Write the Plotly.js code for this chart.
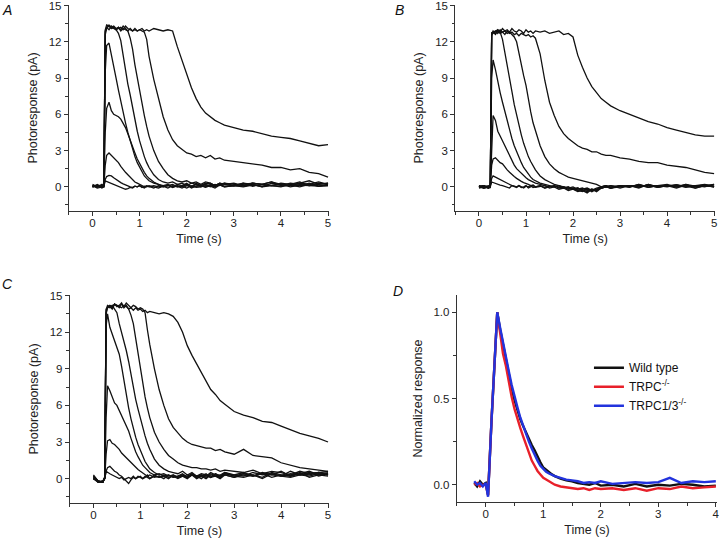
<!DOCTYPE html>
<html>
<head>
<meta charset="utf-8">
<script src="https://cdn.plot.ly/plotly-3.0.1.min.js"></script>
<style>html,body{margin:0;padding:0;background:#fff}#chart{width:720px;height:541px}</style>
</head>
<body>
<div id="chart"></div>
<script>
// shared time base (s) for panels A, B, C
var timeABC = [0,0.1,0.2,0.24,0.27,0.3,0.35,0.4,0.45,0.5,
  0.55,0.6,0.65,0.7,0.75,0.8,0.85,0.9,0.95,1.0,
  1.05,1.1,1.15,1.2,1.3,1.4,1.5,1.6,1.7,1.8,
  1.9,2.0,2.1,2.2,2.3,2.4,2.5,2.6,2.7,2.8,
  3.0,3.2,3.4,3.6,3.8,4.0,4.2,4.4,4.6,4.8,5.0];

// Panel A (pA)
var a1 = [0.1,-0.1,0.0,0.1,0.5,0.45,0.4,0.3,0.25,0.15, 0.1,0.0,-0.1,-0.2,-0.15,-0.05,-0.1,0.05,0.0,0.1, -0.05,0.05,0.0,0.1,0.0,-0.1,0.05,0.1,0.0,0.05, -0.1,0.1,0.0,0.05,0.1,-0.05,0.1,0.0,0.15,0.05, 0.1,0.0,0.15,0.05,0.1,0.2,0.0,0.15,0.1,0.05,0.1];
var a2 = [0.0,0.1,-0.1,0.0,0.6,0.85,0.95,0.9,0.75,0.6, 0.45,0.35,0.25,0.15,0.1,0.0,-0.05,0.05,0.0,0.1, 0.0,-0.1,0.05,0.0,0.1,0.0,0.05,-0.1,0.1,0.0, 0.05,-0.1,0.1,-0.05,0.0,0.1,0.05,-0.1,0.15,0.0, 0.1,0.05,0.2,0.0,0.1,0.05,0.15,0.0,0.2,0.05,0.1];
var a3 = [0.2,0.0,0.1,0.0,1.8,2.6,2.8,2.6,2.4,2.2, 2.0,1.7,1.4,1.2,1.0,0.8,0.6,0.4,0.3,0.2, 0.15,0.0,0.1,0.05,-0.1,0.1,0.0,0.15,-0.05,0.1, 0.0,0.2,-0.1,0.05,0.1,0.0,0.15,0.05,0.2,0.0, 0.1,0.3,0.05,0.2,0.1,0.0,0.2,0.1,0.3,0.05,0.2];
var a4 = [0.0,0.2,0.0,0.1,4.5,6.5,7.0,6.3,6.0,5.9, 5.8,5.6,5.3,4.9,4.4,3.8,3.3,2.8,2.3,1.9, 1.5,1.2,0.9,0.7,0.4,0.2,0.0,0.1,0.2,0.0, 0.1,0.2,0.0,0.3,0.1,0.2,0.0,0.2,0.1,0.3, 0.2,0.1,0.3,0.2,0.1,0.3,0.2,0.4,0.1,0.2,0.3];
var a5 = [0.1,0.0,0.1,0.2,9.5,11.7,11.9,11.0,10.1,9.0, 8.0,7.0,6.1,5.3,4.5,3.8,3.1,2.5,2.0,1.6, 1.2,0.9,0.7,0.5,0.3,0.2,0.1,0.2,0.0,0.2, 0.1,0.3,0.0,0.2,0.1,0.3,0.2,0.1,0.3,0.2, 0.1,0.3,0.2,0.0,0.3,0.2,0.1,0.3,0.2,0.4,0.2];
var a6 = [0.0,0.1,0.0,0.2,12.8,13.2,13.3,13.1,13.2,13.0, 12.7,12.1,10.9,9.6,8.5,7.6,6.5,5.5,4.6,3.8, 3.1,2.5,2.0,1.6,1.0,0.6,0.4,0.3,0.4,0.2, 0.3,0.1,0.3,0.2,0.0,0.2,0.3,0.1,0.2,0.3, 0.1,0.2,0.3,0.2,0.4,0.1,0.3,0.2,0.1,0.3,0.2];
var a7 = [0.1,0.0,0.2,0.0,12.6,13.1,13.4,13.2,13.3,13.1, 13.2,13.0,13.3,13.1,12.9,12.3,11.4,10.1,9.0,8.0, 6.9,5.9,5.0,4.2,3.0,2.1,1.5,1.0,0.7,0.5, 0.4,0.5,0.3,0.4,0.2,0.4,0.3,0.1,0.3,0.2, 0.3,0.1,0.3,0.2,0.4,0.2,0.1,0.3,0.5,0.2,0.3];
var a8 = [0.0,0.1,0.0,0.1,12.9,13.2,13.0,13.3,13.1,13.0, 13.2,12.9,13.1,13.0,12.9,13.1,12.9,13.0,12.9,13.0, 12.9,12.8,12.2,10.8,8.9,7.3,5.8,4.7,3.9,3.4, 3.1,2.8,2.7,2.5,2.6,2.4,2.6,2.3,2.4,2.2, 2.1,2.0,1.9,1.8,1.6,1.6,1.4,1.5,1.2,1.1,0.8];
var a9 = [0.1,0.0,0.1,0.0,13.0,13.4,13.3,13.1,13.2,13.0, 13.1,13.2,13.0,13.3,13.1,13.0,12.9,13.1,12.9,13.0, 13.1,12.9,13.0,12.9,13.1,13.0,12.9,13.0,12.9,11.6, 10.5,9.3,8.2,7.3,6.6,6.1,5.8,5.5,5.3,5.1, 4.9,4.7,4.6,4.4,4.2,4.1,4.0,3.8,3.6,3.4,3.5];

// Panel B (pA)
var b1 = [0.0,0.1,-0.1,0.0,0.4,0.35,0.3,0.2,0.15,0.1, 0.05,0.0,-0.1,0.1,0.0,-0.05,0.1,0.0,-0.1,0.05, 0.0,0.1,-0.05,0.0,0.1,-0.1,0.05,0.0,0.1,-0.1, 0.0,-0.2,-0.3,-0.4,-0.2,-0.3,-0.1,0.0,0.1,-0.1, 0.05,0.1,0.0,0.15,-0.05,0.1,0.0,0.2,-0.1,0.1,0.0];
var b2 = [0.1,-0.1,0.0,0.1,0.7,0.9,0.8,0.7,0.55,0.45, 0.35,0.25,0.2,0.1,0.05,0.0,0.1,-0.05,0.0,0.1, -0.1,0.0,0.1,-0.05,0.0,0.1,-0.1,0.0,-0.2,-0.1, -0.3,-0.2,-0.4,-0.3,-0.5,-0.2,-0.3,-0.1,0.0,-0.1, 0.1,0.0,0.15,-0.05,0.1,0.2,0.0,0.1,0.05,0.15,0.0];
var b3 = [0.0,0.1,-0.1,0.0,1.8,2.3,2.4,2.2,2.0,1.9, 1.6,1.4,1.2,1.0,0.85,0.7,0.55,0.45,0.35,0.3, 0.2,0.1,0.15,0.0,0.1,-0.1,0.0,0.1,-0.05,0.0, -0.2,-0.1,-0.3,-0.2,-0.1,-0.3,-0.2,0.0,0.1,0.0, 0.1,-0.05,0.2,0.0,0.1,0.05,0.15,0.0,0.1,0.2,0.05];
var b4 = [-0.1,0.0,0.1,0.0,4.0,5.9,5.5,4.6,4.2,3.8, 3.4,2.9,2.5,2.1,1.8,1.5,1.3,1.1,0.9,0.75, 0.6,0.5,0.4,0.3,0.2,0.1,0.0,0.1,-0.1,0.0, -0.1,-0.2,-0.1,-0.3,-0.2,-0.4,-0.2,-0.1,0.0,0.1, 0.0,0.1,-0.1,0.2,0.0,0.1,0.15,-0.05,0.1,0.0,0.2];
var b5 = [0.0,-0.1,0.0,0.1,9.0,10.5,9.7,8.6,7.8,7.0, 6.2,5.4,4.7,4.0,3.4,2.9,2.4,2.0,1.6,1.3, 1.0,0.8,0.6,0.5,0.3,0.2,0.1,0.0,0.1,-0.1, 0.0,-0.2,-0.1,-0.3,-0.4,-0.2,-0.3,-0.1,0.0,0.1, -0.1,0.1,0.0,0.15,-0.05,0.1,0.0,0.2,0.05,0.1,0.0];
var b6 = [0.1,0.0,-0.1,0.0,12.6,12.9,12.7,13.0,12.8,12.2, 11.2,10.2,9.0,7.9,6.8,5.9,5.0,4.3,3.6,3.0, 2.5,2.1,1.7,1.4,0.9,0.6,0.4,0.2,0.1,0.0, -0.1,0.0,-0.2,-0.1,-0.3,-0.2,-0.4,-0.1,0.0,-0.1, 0.1,0.0,0.2,-0.05,0.1,0.0,0.15,0.05,-0.1,0.1,0.05];
var b7 = [0.0,0.1,0.0,-0.1,12.5,12.8,12.9,12.7,13.0,12.8, 12.9,12.7,12.8,12.6,12.4,12.0,11.0,10.1,9.2,8.4, 7.2,6.2,5.3,4.6,3.4,2.5,1.9,1.5,1.2,1.0, 0.8,0.7,0.6,0.5,0.4,0.3,0.2,0.0,0.1,-0.1, 0.0,0.1,-0.05,0.2,0.0,0.1,-0.1,0.15,0.0,0.1,0.2];
var b8 = [0.1,-0.1,0.0,0.1,12.7,12.8,12.6,12.9,12.7,12.8, 12.6,12.9,12.7,12.8,12.6,12.7,12.5,12.7,12.6,12.5, 12.6,12.4,12.5,12.3,11.0,8.8,7.0,5.9,5.0,4.4, 4.0,3.7,3.4,3.2,3.1,2.9,2.9,2.7,2.6,2.6, 2.4,2.3,2.1,2.0,2.0,1.8,1.7,1.6,1.4,1.2,1.1];
var b9 = [0.0,0.1,-0.1,0.0,12.8,12.7,12.9,13.0,12.8,13.1, 12.9,13.0,12.8,13.1,12.9,12.8,13.0,12.9,12.7,13.0, 12.8,12.9,12.7,12.9,12.8,12.9,12.7,12.8,12.9,12.6, 12.7,12.4,10.9,9.9,9.0,8.3,7.8,7.3,7.0,6.7, 6.3,6.0,5.7,5.4,5.2,4.9,4.7,4.5,4.3,4.2,4.2];

// Panel C (pA)
var c1 = [0.2,-0.2,-0.3,0.0,0.6,0.5,0.4,0.3,0.2,0.1, 0.0,0.1,-0.1,0.0,0.1,0.0,0.2,0.0,0.1,0.2, 0.0,0.1,0.3,0.0,0.2,0.1,0.3,0.1,0.2,0.0, 0.2,0.1,0.3,0.0,0.2,0.4,0.1,0.2,0.0,0.3, 0.1,0.3,0.2,0.4,0.1,0.3,0.2,0.5,0.1,0.3,0.2];
var c2 = [0.0,-0.3,-0.2,0.0,0.6,0.9,1.0,0.8,0.6,0.5, 0.3,0.2,0.0,-0.2,-0.4,-0.1,0.1,0.0,0.2,0.1, 0.0,0.2,0.1,0.0,0.3,0.1,0.2,0.0,0.3,0.1, 0.2,0.0,0.3,0.1,0.2,0.0,0.3,0.2,0.1,0.4, 0.2,0.1,0.3,0.0,0.4,0.2,0.1,0.3,0.2,0.4,0.3];
var c3 = [0.3,-0.2,-0.3,0.0,2.0,3.1,3.2,2.9,2.8,2.6, 2.4,2.1,1.9,1.7,1.5,1.3,1.1,0.9,0.75,0.6, 0.45,0.3,0.2,0.3,0.1,0.2,0.0,0.3,0.1,0.2, 0.4,0.1,0.3,0.2,0.0,0.3,0.1,0.4,0.2,0.3, 0.1,0.4,0.2,0.5,0.3,0.2,0.4,0.3,0.5,0.2,0.4];
var c4 = [0.1,-0.2,-0.2,0.1,5.0,7.6,7.2,6.6,6.2,6.0, 5.6,5.2,4.8,4.4,3.9,3.3,2.7,2.2,1.8,1.4, 1.1,0.9,0.7,0.5,0.3,0.4,0.2,0.3,0.1,0.2, 0.3,0.1,0.4,0.2,0.3,0.1,0.4,0.2,0.3,0.5, 0.2,0.4,0.3,0.1,0.5,0.3,0.2,0.4,0.6,0.3,0.5];
var c5 = [0.0,-0.2,-0.3,0.1,12.5,13.5,12.4,11.8,11.2,10.8, 10.2,9.2,8.0,6.9,5.8,4.9,4.1,3.4,2.8,2.3, 1.8,1.4,1.1,0.8,0.5,0.3,0.4,0.2,0.3,0.1, 0.3,0.2,0.4,0.1,0.3,0.2,0.5,0.3,0.1,0.4, 0.3,0.2,0.5,0.3,0.4,0.2,0.6,0.3,0.4,0.5,0.3];
var c6 = [0.1,-0.3,-0.2,0.0,13.6,14.1,14.0,14.2,13.9,13.6, 12.7,12.0,11.4,10.5,9.6,8.5,7.4,6.5,5.7,4.9, 4.2,3.5,2.9,2.4,1.6,1.1,0.8,0.6,0.5,0.4, 0.6,0.3,0.5,0.2,0.4,0.3,0.1,0.4,0.2,0.5, 0.3,0.5,0.2,0.4,0.3,0.6,0.2,0.4,0.3,0.5,0.4];
var c7 = [0.0,-0.2,-0.3,0.1,13.8,14.2,14.1,13.9,14.3,14.1, 14.2,14.4,14.0,14.2,13.9,13.4,12.7,11.5,10.2,8.9, 7.7,6.7,5.8,5.0,3.8,3.0,2.4,1.9,1.6,1.3, 1.1,1.0,0.9,0.9,0.8,0.8,0.7,0.8,0.6,0.7, 0.6,0.5,0.7,0.4,0.6,0.5,0.3,0.6,0.4,0.5,0.6];
var c8 = [0.2,-0.3,-0.2,0.0,13.9,14.0,14.2,14.1,14.3,14.2, 14.0,14.3,14.1,14.4,14.2,14.0,14.2,14.1,13.9,14.0, 13.9,13.6,12.2,11.0,9.0,7.3,6.0,4.9,4.2,3.7, 3.3,3.0,2.8,2.7,2.6,2.5,2.5,2.3,2.4,2.2, 2.0,2.4,1.9,1.8,1.7,1.3,1.1,0.9,0.8,0.7,0.6];
var c9 = [0.0,-0.2,-0.3,0.1,13.5,14.0,14.1,14.0,14.3,14.2, 14.1,14.0,14.2,14.1,13.9,14.0,13.8,14.0,13.8,13.9, 13.7,13.8,13.6,13.7,13.6,13.5,13.6,13.5,13.3,12.8, 12.0,10.9,10.1,9.4,8.7,7.9,7.3,6.9,6.4,6.1, 5.5,5.2,5.0,4.7,4.6,4.3,4.0,3.7,3.5,3.3,3.0];

// Panel D (normalized)
var timeD = [-0.2,-0.15,-0.1,-0.05,0,0.04,0.1,0.15,0.2,0.25,
  0.3,0.35,0.4,0.45,0.5,0.55,0.6,0.65,0.7,0.75,
  0.8,0.85,0.9,0.95,1.0,1.05,1.1,1.15,1.2,1.3,
  1.4,1.5,1.6,1.7,1.8,1.9,2.0,2.2,2.4,2.6,
  2.8,3.0,3.2,3.4,3.6,3.8,4.0];
var dWildType = [0.01,-0.01,0.02,0.0,0.01,-0.06,0.37,0.72,1.0,0.90, 0.81,0.73,0.64,0.56,0.49,0.43,0.38,0.34,0.30,0.27, 0.23,0.20,0.16,0.13,0.10,0.085,0.07,0.06,0.05,0.035, 0.025,0.02,0.01,0.005,0.0,0.01,-0.005,0.0,-0.01,0.005, -0.01,0.0,-0.005,0.005,0.0,-0.01,-0.005];
var dTRPC = [0.0,0.01,-0.01,0.0,0.0,-0.06,0.37,0.72,1.0,0.88, 0.76,0.69,0.59,0.51,0.44,0.38,0.33,0.28,0.23,0.18, 0.14,0.11,0.08,0.06,0.04,0.03,0.02,0.01,0.0,-0.01, -0.015,-0.02,-0.025,-0.02,-0.03,-0.02,-0.025,-0.02,-0.03,-0.02, -0.035,-0.02,-0.025,-0.01,-0.02,-0.015,-0.01];
var dTRPC13 = [0.02,0.0,0.01,-0.01,0.01,-0.07,0.37,0.72,1.0,0.91, 0.82,0.74,0.66,0.58,0.51,0.45,0.39,0.34,0.29,0.25, 0.21,0.17,0.14,0.11,0.09,0.075,0.065,0.055,0.05,0.04, 0.03,0.025,0.02,0.01,0.015,0.01,0.02,0.005,0.01,0.015, 0.01,0.015,0.04,0.01,0.02,0.015,0.02];

var legendNames = ['Wild type', 'TRPC<sup>-/-</sup>', 'TRPC1/3<sup>-/-</sup>'];
var legendColors = ['#111111', '#e8202a', '#2233dd'];

var FONT = 'Liberation Sans, Arial, sans-serif';
var traces = [];
function addPanel(list, xa, ya) {
  list.forEach(function (ys) {
    traces.push({x: timeABC, y: ys, xaxis: xa, yaxis: ya, type: 'scatter', mode: 'lines',
      line: {color: '#111', width: 1.3}, showlegend: false, hoverinfo: 'skip'});
  });
}
addPanel([a1,a2,a3,a4,a5,a6,a7,a8,a9], 'x', 'y');
addPanel([b1,b2,b3,b4,b5,b6,b7,b8,b9], 'x2', 'y2');
addPanel([c1,c2,c3,c4,c5,c6,c7,c8,c9], 'x3', 'y3');
[dWildType, dTRPC, dTRPC13].forEach(function (ys, i) {
  traces.push({x: timeD, y: ys, xaxis: 'x4', yaxis: 'y4', type: 'scatter', mode: 'lines',
    name: legendNames[i], line: {color: legendColors[i], width: 2.4}, showlegend: true});
});

function xax(dom, anchor, rng) {
  return {domain: dom, anchor: anchor, range: rng, tick0: 0, dtick: 1,
    ticks: 'outside', ticklen: 4, tickwidth: 1, tickcolor: '#333', ticklabelstandoff: -3,
    ticklabeloverflow: 'allow',
    minor: {dtick: 0.5, ticks: 'outside', ticklen: 2.5, tickcolor: '#333', showgrid: false},
    showline: true, linecolor: '#333', linewidth: 1.2, showgrid: false, zeroline: false,
    tickfont: {family: FONT, size: 11.5, color: '#222'},
    title: {text: 'Time (s)', font: {family: FONT, size: 12.5, color: '#222'}, standoff: 6}};
}
function yax(dom, anchor, rng, dt, mdt, title, fmt) {
  return {domain: dom, anchor: anchor, range: rng, tick0: 0, dtick: dt, tickformat: fmt,
    ticks: 'outside', ticklen: 4, tickwidth: 1, tickcolor: '#333',
    ticklabeloverflow: 'allow',
    minor: {dtick: mdt, ticks: 'outside', ticklen: 2.5, tickcolor: '#333', showgrid: false},
    showline: true, linecolor: '#333', linewidth: 1.2, showgrid: false, zeroline: false,
    tickfont: {family: FONT, size: 11.5, color: '#222'},
    title: {text: title, font: {family: FONT, size: 12.5, color: '#222'}, standoff: 8}};
}

var layout = {
  width: 720, height: 541,
  margin: {l: 0, r: 0, t: 0, b: 0},
  paper_bgcolor: '#fff', plot_bgcolor: '#fff',
  font: {family: FONT, color: '#222'},
  xaxis: xax([0.0958, 0.4569], 'y', [-0.5, 5.02]),
  yaxis: yax([0.61, 0.9908], 'x', [-2, 15.05], 3, 1.5, 'Photoresponse (pA)', ''),
  xaxis2: xax([0.6326, 0.9931], 'y2', [-0.5, 5.02]),
  yaxis2: yax([0.61, 0.9908], 'x2', [-2, 15.05], 3, 1.5, 'Photoresponse (pA)', ''),
  xaxis3: xax([0.0972, 0.4569], 'y3', [-0.5, 5.02]),
  yaxis3: yax([0.0702, 0.4547], 'x3', [-2, 15.05], 3, 1.5, 'Photoresponse (pA)', ''),
  xaxis4: xax([0.6347, 0.9958], 'y4', [-0.5, 4.02]),
  yaxis4: yax([0.0721, 0.4547], 'x4', [-0.1, 1.1], 0.5, 0.25, 'Normalized response', '.1f'),
  showlegend: true,
  legend: {x: 0.818, y: 0.347, xanchor: 'left', yanchor: 'top', bgcolor: 'rgba(0,0,0,0)',
    font: {family: FONT, size: 12, color: '#111'}, tracegroupgap: 0, itemwidth: 30},
  annotations: [
    {text: 'A', x: 0.0, y: 1.0, xref: 'paper', yref: 'paper', xanchor: 'left', yanchor: 'top', showarrow: false, font: {family: FONT, size: 14, style: 'italic', color: '#111'}},
    {text: 'B', x: 0.546, y: 1.0, xref: 'paper', yref: 'paper', xanchor: 'left', yanchor: 'top', showarrow: false, font: {family: FONT, size: 14, style: 'italic', color: '#111'}},
    {text: 'C', x: 0.0, y: 0.494, xref: 'paper', yref: 'paper', xanchor: 'left', yanchor: 'top', showarrow: false, font: {family: FONT, size: 14, style: 'italic', color: '#111'}},
    {text: 'D', x: 0.543, y: 0.48, xref: 'paper', yref: 'paper', xanchor: 'left', yanchor: 'top', showarrow: false, font: {family: FONT, size: 14, style: 'italic', color: '#111'}}
  ]
};

Plotly.newPlot('chart', traces, layout, {staticPlot: true, displayModeBar: false});
</script>
</body>
</html>
